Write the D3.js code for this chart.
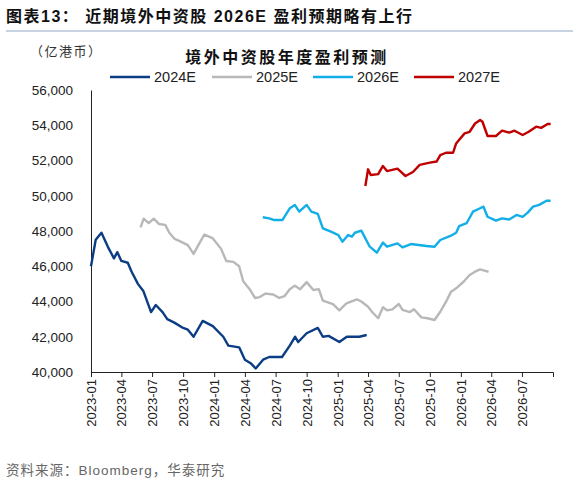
<!DOCTYPE html>
<html><head><meta charset="utf-8">
<script src="https://cdn.jsdelivr.net/npm/d3@7"></script>
<style>body{margin:0;background:#fff}svg{font-family:Arial,"Liberation Sans","Noto Sans CJK SC",sans-serif}</style>
</head><body><svg id="c" width="579" height="486"></svg>
<script>
const seriesNames=["2024E","2025E","2026E","2027E"];
const seriesColors=["#0b3d84","#b8b8b8","#12aee8","#c00000"];
const yTicks=[40000,42000,44000,46000,48000,50000,52000,54000,56000];
const xTickLabels=["2023-01","2023-04","2023-07","2023-10","2024-01","2024-04","2024-07","2024-10","2025-01","2025-04","2025-07","2025-10","2026-01","2026-04","2026-07"];
const s2024=[["2023-01-01",46000],["2023-01-15",47500],["2023-02-01",47900],["2023-02-20",47100],["2023-03-10",46450],["2023-03-20",46800],["2023-04-01",46300],["2023-04-20",46200],["2023-05-01",45700],["2023-05-20",45000],["2023-06-05",44600],["2023-06-28",43400],["2023-07-12",43800],["2023-08-01",43400],["2023-08-15",43000],["2023-09-05",42800],["2023-10-01",42500],["2023-10-15",42400],["2023-11-01",42000],["2023-11-28",42900],["2023-12-28",42600],["2024-01-28",42000],["2024-02-12",41500],["2024-03-15",41400],["2024-04-01",40700],["2024-04-18",40500],["2024-05-03",40200],["2024-05-25",40700],["2024-06-12",40850],["2024-07-20",40850],["2024-08-12",41500],["2024-08-28",42000],["2024-09-06",41700],["2024-10-01",42200],["2024-11-03",42500],["2024-11-18",42000],["2024-12-05",42050],["2025-01-06",41700],["2025-01-28",42000],["2025-03-06",42000],["2025-03-28",42100]];
const s2025=[["2023-05-28",48200],["2023-06-06",48700],["2023-06-21",48450],["2023-07-06",48700],["2023-07-21",48400],["2023-08-09",48350],["2023-08-21",47900],["2023-09-06",47550],["2023-09-24",47400],["2023-10-15",47200],["2023-11-01",46700],["2023-11-18",47300],["2023-12-03",47800],["2023-12-27",47600],["2024-01-21",47000],["2024-02-06",46300],["2024-02-27",46250],["2024-03-15",46000],["2024-03-27",45150],["2024-04-15",44700],["2024-05-01",44200],["2024-05-15",44250],["2024-06-01",44450],["2024-06-24",44400],["2024-07-12",44200],["2024-07-27",44300],["2024-08-12",44700],["2024-08-27",44900],["2024-09-12",44700],["2024-10-01",45100],["2024-10-21",44650],["2024-11-06",44700],["2024-11-18",44050],["2024-12-18",43850],["2025-01-06",43500],["2025-01-27",43900],["2025-02-27",44120],["2025-03-12",44000],["2025-04-01",43700],["2025-04-15",43360],["2025-05-01",43050],["2025-05-15",43670],["2025-05-27",43500],["2025-06-12",43550],["2025-07-01",43860],["2025-07-12",43520],["2025-08-03",43400],["2025-08-15",43560],["2025-09-06",43100],["2025-09-24",43050],["2025-10-15",42950],["2025-11-01",43420],["2025-11-18",43990],["2025-12-03",44560],["2025-12-18",44750],["2026-01-09",45120],["2026-01-27",45500],["2026-02-12",45690],["2026-02-27",45820],["2026-03-12",45750],["2026-03-24",45690]];
const s2026=[["2024-05-24",48780],["2024-06-12",48720],["2024-06-27",48620],["2024-07-21",48620],["2024-08-12",49290],["2024-08-27",49480],["2024-09-09",49100],["2024-10-01",49480],["2024-10-15",49100],["2024-11-03",48970],["2024-11-18",48150],["2024-12-12",47960],["2025-01-03",47770],["2025-01-15",47390],["2025-02-01",47770],["2025-02-12",47680],["2025-02-21",47900],["2025-03-12",48020],["2025-04-06",47110],["2025-04-27",46770],["2025-05-15",47340],["2025-05-27",47110],["2025-06-27",47300],["2025-07-12",47070],["2025-08-06",47260],["2025-09-21",47150],["2025-10-15",47110],["2025-11-01",47490],["2025-12-01",47720],["2025-12-18",47900],["2025-12-27",48280],["2026-01-18",48440],["2026-02-06",49100],["2026-02-27",49290],["2026-03-09",49380],["2026-03-21",48810],["2026-04-15",48590],["2026-05-03",48720],["2026-05-24",48650],["2026-06-15",48910],["2026-07-03",48800],["2026-07-18",49040],["2026-08-03",49380],["2026-08-21",49480],["2026-09-12",49720],["2026-09-24",49720]];
const s2027=[["2025-03-24",50550],["2025-04-01",51500],["2025-04-09",51180],["2025-05-01",51230],["2025-05-15",51690],["2025-05-27",51400],["2025-06-27",51540],["2025-07-21",51120],["2025-08-12",51350],["2025-09-01",51750],["2025-10-01",51880],["2025-10-21",51940],["2025-11-01",52310],["2025-11-18",52440],["2025-12-09",52440],["2025-12-18",52970],["2026-01-12",53540],["2026-01-27",53630],["2026-02-12",54100],["2026-02-27",54300],["2026-03-06",54200],["2026-03-21",53390],["2026-04-15",53390],["2026-05-03",53690],["2026-05-24",53580],["2026-06-09",53690],["2026-07-03",53450],["2026-07-21",53630],["2026-08-12",53920],["2026-08-27",53850],["2026-09-15",54070],["2026-09-24",54070]];
const allSeries=[s2024,s2025,s2026,s2027];

const p=d3.timeParse("%Y-%m-%d"), pm=d3.timeParse("%Y-%m");
const svg=d3.select("#c");
const x=d3.scaleTime().domain([p("2023-01-01"),p("2026-10-01")]).range([91,553]);
const y=d3.scaleLinear().domain([40000,56000]).range([372,90]);

svg.append("text").attr("x",6).attr("y",22).attr("font-size",16).attr("font-weight","bold").attr("letter-spacing",1.5).attr("fill","#111").text("图表13：  近期境外中资股 2026E 盈利预期略有上行");
svg.append("line").attr("x1",6).attr("x2",573).attr("y1",31).attr("y2",31).attr("stroke","#8fa8c8").attr("stroke-width",1);
svg.append("text").attr("x",30).attr("y",56).attr("font-size",13).attr("letter-spacing",1.5).attr("fill","#333").text("（亿港币）");
svg.append("text").attr("x",287).attr("y",63).attr("text-anchor","middle").attr("font-size",16).attr("font-weight","bold").attr("letter-spacing",2.5).attr("fill","#111").text("境外中资股年度盈利预测");

const lx=[110,212,313,414];
seriesNames.forEach((n,i)=>{
  svg.append("line").attr("x1",lx[i]).attr("x2",lx[i]+40).attr("y1",77).attr("y2",77).attr("stroke",seriesColors[i]).attr("stroke-width",2.5);
  svg.append("text").attr("x",lx[i]+44).attr("y",82).attr("font-size",14.5).attr("fill","#222").text(n);
});

const ya=svg.append("g").attr("transform","translate(91,0)").call(d3.axisLeft(y).tickValues(yTicks).tickSize(0).tickPadding(18).tickFormat(d3.format(",")));
ya.select(".domain").attr("stroke","#222");
ya.selectAll("text").attr("font-size",13.5).attr("fill","#222").attr("font-family","Arial");

const xa=svg.append("g").attr("transform","translate(0,372)").call(d3.axisBottom(x).tickValues(xTickLabels.map(pm)).tickSize(5).tickFormat(d3.timeFormat("%Y-%m")));
xa.select(".domain").attr("stroke","#222");
xa.selectAll("line").attr("stroke","#222");
xa.selectAll("text").attr("font-size",13).attr("fill","#222").attr("font-family","Arial")
  .attr("transform","rotate(-90)").attr("text-anchor","end").attr("dx","-7").attr("y",0).attr("x",0).attr("dy","0.35em");

const line=d3.line().x(d=>x(p(d[0]))).y(d=>y(d[1]));
allSeries.forEach((s,i)=>{
  svg.append("path").datum(s).attr("d",line).attr("fill","none").attr("stroke",seriesColors[i]).attr("stroke-width",2.4).attr("stroke-linejoin","round");
});

svg.append("text").attr("x",6).attr("y",475).attr("font-size",13.5).attr("letter-spacing",1).attr("fill","#666").text("资料来源：Bloomberg，华泰研究");
</script></body></html>
